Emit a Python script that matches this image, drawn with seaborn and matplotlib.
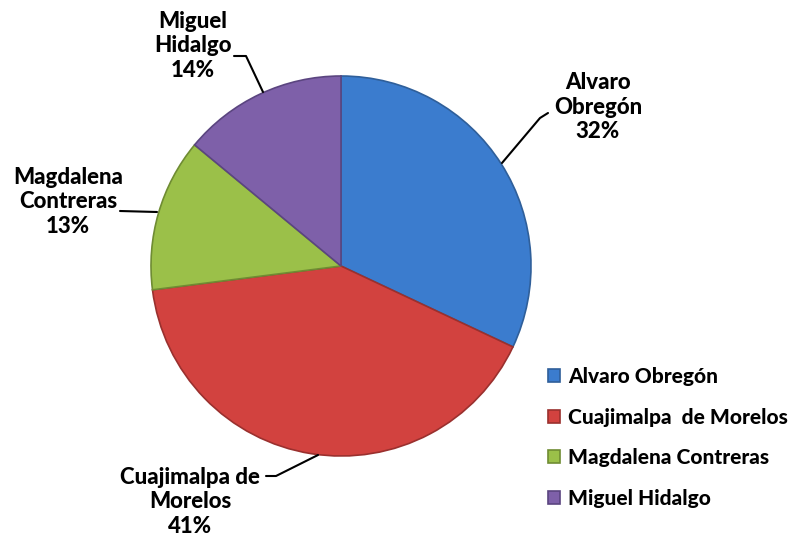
import matplotlib
matplotlib.use("Agg")
import matplotlib.pyplot as plt
import seaborn as sns

# datos
delegaciones = ["Alvaro Obregón", "Cuajimalpa  de Morelos", "Magdalena Contreras", "Miguel Hidalgo"]
etiquetas = ["Alvaro\nObregón", "Cuajimalpa de\nMorelos", "Magdalena\nContreras", "Miguel\nHidalgo"]
porcentajes = [32, 41, 13, 14]

sns.set_style("white")
plt.rcParams['font.family'] = ['Lato', 'DejaVu Sans']
plt.rcParams['text.color'] = 'black'
colores = sns.color_palette(["#3b7cce", "#d2423f", "#9bc049", "#7e60a9"])
bordes = ["#2f5f9a", "#9a302e", "#6f8c33", "#5b4580"]

fig = plt.figure(figsize=(8, 5.44), dpi=100)
ax = fig.add_axes([0, 0, 1, 1])

wedges, _ = ax.pie(porcentajes, colors=colores, startangle=90, counterclock=False,
                   center=(341, 278), radius=190,
                   wedgeprops=dict(linewidth=1.2))
for w, b in zip(wedges, bordes):
    w.set_edgecolor(b)

ax.set_xlim(0, 800)
ax.set_ylim(0, 544)
ax.set_aspect("equal")
ax.axis("off")

# etiquetas con lineas guia (posiciones en pixeles, y desde abajo)
pos_texto = [(598, 437), (190, 42), (68, 342), (193, 498)]
lineas = [
    [(502, 381), (540, 426), (548, 431)],
    [(318, 89), (276, 68), (266, 68)],
    [(157, 332), (120, 333)],
    [(263, 452), (246, 488), (234, 488)],
]
for lab, p, (x, y), pts in zip(etiquetas, porcentajes, pos_texto, lineas):
    ax.text(x, y, f"{lab}\n{p}%", ha="center", va="center", fontsize=16,
            fontweight="black", linespacing=1.2)
    xs, ys = zip(*pts)
    ax.plot(xs, ys, color="black", lw=1.5)

ax.legend(wedges, delegaciones, loc="upper left", bbox_to_anchor=(0.661, 0.36),
          bbox_transform=fig.transFigure, frameon=False,
          handlelength=0.58, handleheight=0.58, handletextpad=0.42, labelspacing=1.04,
          prop=dict(weight="black", size=15), labelcolor="black")

fig.savefig("out.png", dpi=100)
